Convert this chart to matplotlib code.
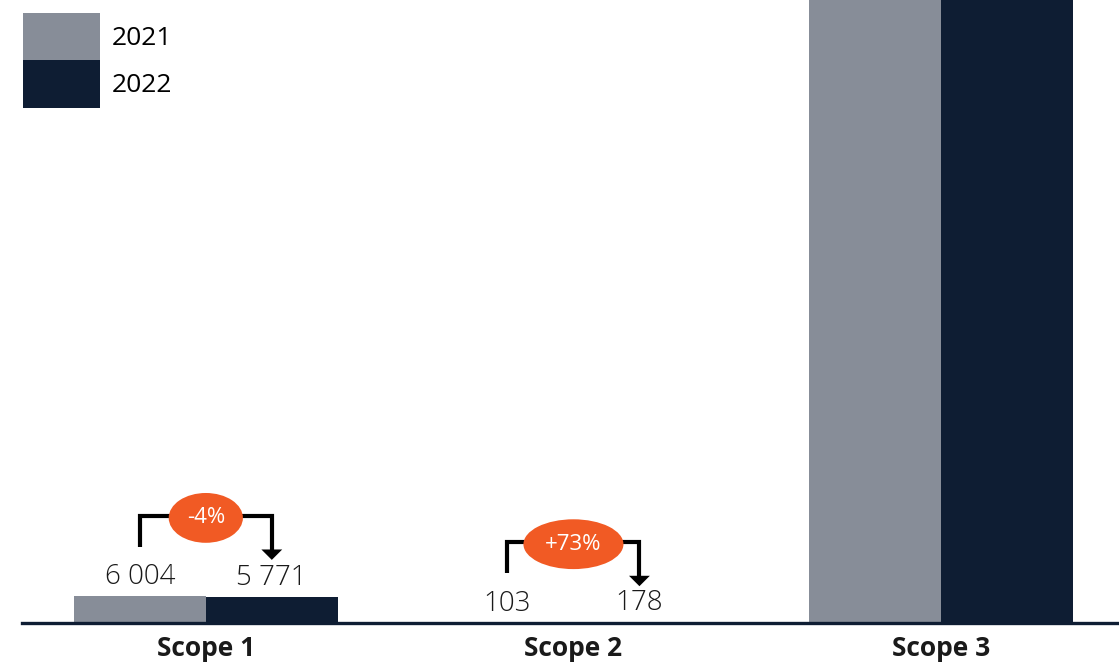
import numpy as np
import matplotlib
matplotlib.use("Agg")
import matplotlib.pyplot as plt

plt.rcParams["font.family"] = ["Open Sans", "DejaVu Sans"]

# data
scopes = ["Scope 1", "Scope 2", "Scope 3"]
years = ["2021", "2022"]
v2021 = [6004, 103, 165000]   # scope 3 runs off the top of the chart
v2022 = [5771, 178, 158000]
labelled = [0, 1]             # groups that get value labels + change bubble

GRAY = "#878d98"
NAVY = "#0e1d33"
ORANGE = "#f15a24"
INK = "#1a1a1a"

fig = plt.figure(figsize=(11.19, 6.64), dpi=100)
ax = fig.add_axes([22 / 1119, 41 / 664, 1 - 22 / 1119, 1 - 41 / 664])

x = np.arange(len(scopes))
w = 0.359
b1 = ax.bar(x - w / 2, v2021, w, color=GRAY, label=years[0])
b2 = ax.bar(x + w / 2, v2022, w, color=NAVY, label=years[1])

YMAX = 138000
ax.set_xlim(-0.5, 2.484)
ax.set_ylim(0, YMAX)
fig.canvas.draw()
px = YMAX / ax.get_window_extent().height   # data units per pixel

for i in labelled:
    base = max(v2021[i], v2022[i])
    xl, xr = x[i] - w / 2, x[i] + w / 2
    ax.text(xl, v2021[i] + 19 * px, f"{v2021[i]:,}".replace(",", " "),
            ha="center", va="center", fontsize=20, color=INK, fontweight="light")
    ax.text(xr, v2022[i] + 19 * px, f"{v2022[i]:,}".replace(",", " "),
            ha="center", va="center", fontsize=20, color=INK, fontweight="light")
    ylo = base + 49 * px
    yhi = base + 80 * px
    ytip = base + 36 * px
    ax.plot([xl, xl, xr, xr], [ylo, yhi, yhi, ytip + 9 * px],
            color="black", lw=3, solid_joinstyle="miter", solid_capstyle="butt")
    ax.annotate("", xy=(xr, ytip), xytext=(xr, ytip + 11 * px),
                arrowprops=dict(arrowstyle="-|>,head_width=0.75,head_length=0.75",
                                color="black", lw=0, shrinkA=0, shrinkB=0))
    pct = (v2022[i] - v2021[i]) / v2021[i] * 100
    ax.text(x[i], yhi - 2 * px, f"{pct:+.0f}%", ha="center", va="center",
            fontsize=16, color="white",
            bbox=dict(boxstyle="ellipse,pad=0.32", fc=ORANGE, ec="none"))

ax.set_xticks(x)
ax.set_xticklabels(scopes, fontsize=19, fontweight="bold", color=INK)
ax.tick_params(axis="x", length=0, pad=9)
ax.set_yticks([])
for s in ["left", "right", "top"]:
    ax.spines[s].set_visible(False)
ax.spines["bottom"].set_color(NAVY)
ax.spines["bottom"].set_linewidth(2.4)

ax.legend(loc="upper left", bbox_to_anchor=(23 / 1119, 1 - 13 / 664),
          bbox_transform=fig.transFigure, borderaxespad=0, borderpad=0,
          frameon=False, fontsize=19, handlelength=2.9, handleheight=2.38,
          labelspacing=0, handletextpad=0.45)

fig.savefig("out.png", dpi=100)
